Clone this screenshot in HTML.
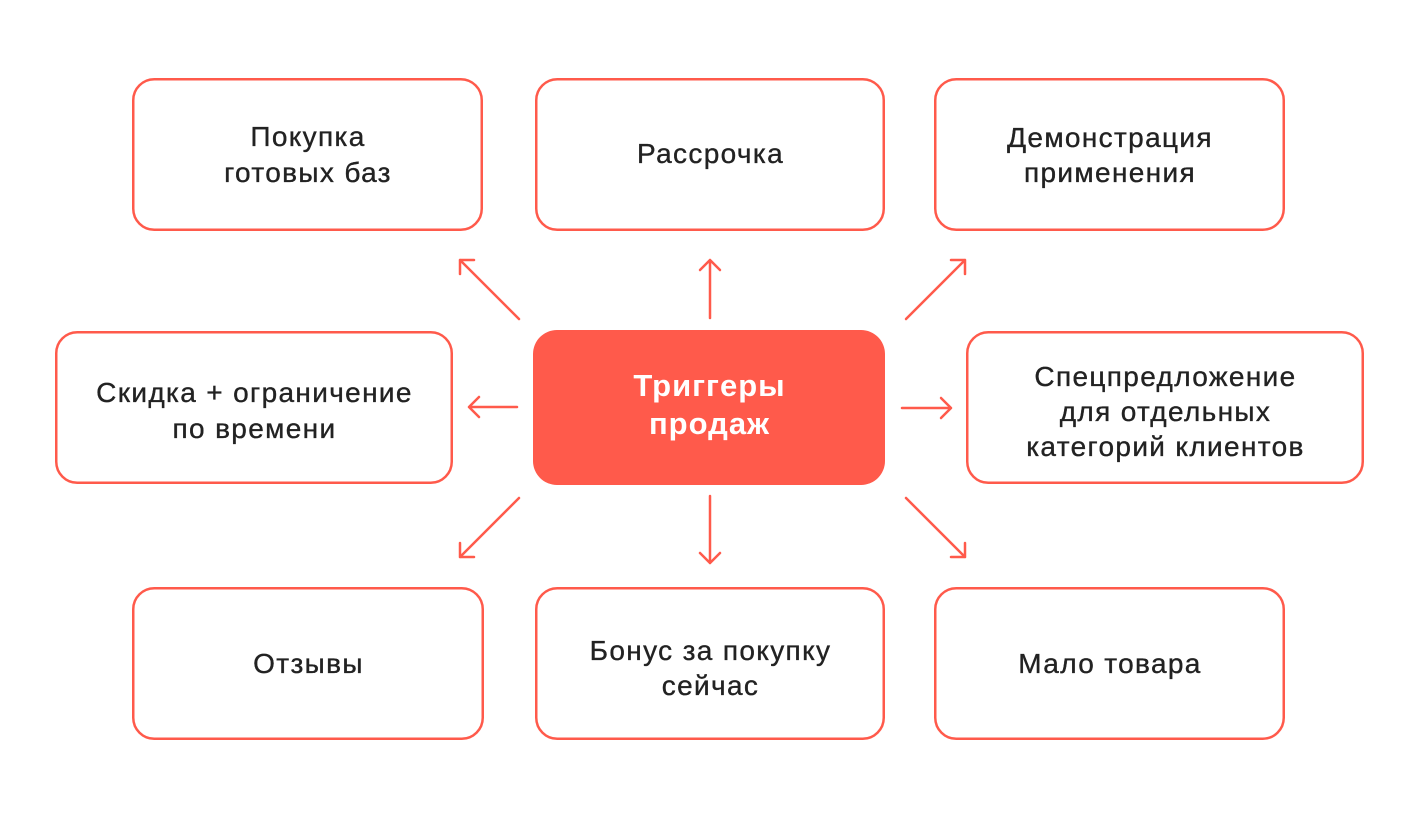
<!DOCTYPE html>
<html>
<head>
<meta charset="utf-8">
<style>
  html,body{margin:0;padding:0;background:#fff;}
  svg{display:block;}
  .box{fill:#fff;stroke:#FF5A4B;stroke-width:2.5;}
  .t{font-family:"Liberation Sans","DejaVu Sans",sans-serif;font-size:28px;fill:#222;stroke:#222;stroke-width:0.35;letter-spacing:1.35px;text-anchor:middle;}
  .c{font-family:"Liberation Sans","DejaVu Sans",sans-serif;font-size:31px;font-weight:bold;fill:#fff;letter-spacing:1px;text-anchor:middle;}
  .a{fill:none;stroke:#FF5A4B;stroke-width:2.5;stroke-linecap:round;stroke-linejoin:round;}
</style>
</head>
<body>
<svg width="1418" height="815" viewBox="0 0 1418 815" xmlns="http://www.w3.org/2000/svg">
  <rect x="0" y="0" width="1418" height="815" fill="#fff"/>

  <!-- Row 1 -->
  <rect class="box" x="133.25" y="79.25" width="348.5" height="150.5" rx="21"/>
  <rect class="box" x="536.25" y="79.25" width="347.5" height="150.5" rx="21"/>
  <rect class="box" x="935.25" y="79.25" width="348.5" height="150.5" rx="21"/>

  <!-- Row 2 -->
  <rect class="box" x="56.25" y="332.25" width="395.5" height="150.5" rx="21"/>
  <rect x="533" y="330" width="352" height="155" rx="24" fill="#FF5A4B"/>
  <rect class="box" x="967.25" y="332.25" width="395.5" height="150.5" rx="21"/>

  <!-- Row 3 -->
  <rect class="box" x="133.25" y="588.25" width="349.5" height="150.5" rx="21"/>
  <rect class="box" x="536.25" y="588.25" width="347.5" height="150.5" rx="21"/>
  <rect class="box" x="935.25" y="588.25" width="348.5" height="150.5" rx="21"/>

  <!-- Texts -->
  <text class="t" x="308" y="146">Покупка</text>
  <text class="t" x="308" y="182">готовых баз</text>

  <text class="t" x="710.5" y="163">Рассрочка</text>

  <text class="t" x="1110" y="147">Демонстрация</text>
  <text class="t" x="1110" y="182">применения</text>

  <text class="t" x="254.5" y="402">Скидка + ограничение</text>
  <text class="t" x="254.5" y="438">по времени</text>

  <text class="c" x="709.5" y="396">Триггеры</text>
  <text class="c" x="709.5" y="434">продаж</text>

  <text class="t" x="1165.5" y="386">Спецпредложение</text>
  <text class="t" x="1165.5" y="421">для отдельных</text>
  <text class="t" x="1165.5" y="456">категорий клиентов</text>

  <text class="t" x="308.5" y="673">Отзывы</text>

  <text class="t" x="710.5" y="660">Бонус за покупку</text>
  <text class="t" x="710.5" y="695">сейчас</text>

  <text class="t" x="1110" y="673">Мало товара</text>

  <!-- Arrows -->
  <path class="a" d="M519 319 L460 260 M460 274 L460 260 L474 260"/>
  <path class="a" d="M710 318 L710 260 M700 270 L710 260 L720 270"/>
  <path class="a" d="M906 319 L965 260 M951 260 L965 260 L965 274"/>
  <path class="a" d="M517 407 L469 407 M479 397 L469 407 L479 417"/>
  <path class="a" d="M902 408 L951 408 M941 398 L951 408 L941 418"/>
  <path class="a" d="M519 498 L460 557 M460 543 L460 557 L474 557"/>
  <path class="a" d="M710 496 L710 563 M700 553 L710 563 L720 553"/>
  <path class="a" d="M906 498 L965 557 M951 557 L965 557 L965 543"/>
</svg>
</body>
</html>
